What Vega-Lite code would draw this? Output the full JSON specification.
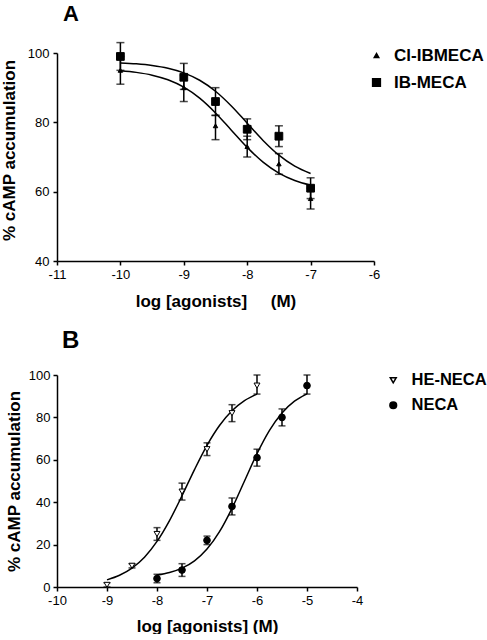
{
  "$schema": "https://vega.github.io/schema/vega-lite/v6.json",
  "background": "white",
  "padding": {"left": 0, "top": 2, "right": 0, "bottom": 0},
  "spacing": 20,
  "datasets": {
    "ptsA": [
      {"series": "Cl-IBMECA", "x": -10, "y": 95, "lo": 91, "hi": 99},
      {"series": "Cl-IBMECA", "x": -9, "y": 90, "lo": 86, "hi": 93.5},
      {"series": "Cl-IBMECA", "x": -8.5, "y": 79, "lo": 75, "hi": 82},
      {"series": "Cl-IBMECA", "x": -8, "y": 73, "lo": 70, "hi": 76},
      {"series": "Cl-IBMECA", "x": -7.5, "y": 68, "lo": 65, "hi": 71},
      {"series": "Cl-IBMECA", "x": -7, "y": 58, "lo": 55, "hi": 61},
      {"series": "IB-MECA", "x": -10, "y": 99, "lo": 95, "hi": 103},
      {"series": "IB-MECA", "x": -9, "y": 93, "lo": 89.5, "hi": 97},
      {"series": "IB-MECA", "x": -8.5, "y": 86, "lo": 82, "hi": 90},
      {"series": "IB-MECA", "x": -8, "y": 78, "lo": 75, "hi": 81},
      {"series": "IB-MECA", "x": -7.5, "y": 76, "lo": 73, "hi": 79},
      {"series": "IB-MECA", "x": -7, "y": 61, "lo": 58, "hi": 64}
    ],
    "curveA": [
      {"series": "IB-MECA", "x": -10, "y": 97.15},
      {"series": "IB-MECA", "x": -9.75, "y": 96.88},
      {"series": "IB-MECA", "x": -9.5, "y": 96.41},
      {"series": "IB-MECA", "x": -9.25, "y": 95.61},
      {"series": "IB-MECA", "x": -9, "y": 94.27},
      {"series": "IB-MECA", "x": -8.75, "y": 92.14},
      {"series": "IB-MECA", "x": -8.5, "y": 88.97},
      {"series": "IB-MECA", "x": -8.25, "y": 84.72},
      {"series": "IB-MECA", "x": -8, "y": 79.75},
      {"series": "IB-MECA", "x": -7.75, "y": 74.78},
      {"series": "IB-MECA", "x": -7.5, "y": 70.53},
      {"series": "IB-MECA", "x": -7.25, "y": 67.36},
      {"series": "IB-MECA", "x": -7, "y": 65.23},
      {"series": "Cl-IBMECA", "x": -10, "y": 94.88},
      {"series": "Cl-IBMECA", "x": -9.75, "y": 94.41},
      {"series": "Cl-IBMECA", "x": -9.5, "y": 93.61},
      {"series": "Cl-IBMECA", "x": -9.25, "y": 92.27},
      {"series": "Cl-IBMECA", "x": -9, "y": 90.14},
      {"series": "Cl-IBMECA", "x": -8.75, "y": 86.97},
      {"series": "Cl-IBMECA", "x": -8.5, "y": 82.72},
      {"series": "Cl-IBMECA", "x": -8.25, "y": 77.75},
      {"series": "Cl-IBMECA", "x": -8, "y": 72.78},
      {"series": "Cl-IBMECA", "x": -7.75, "y": 68.53},
      {"series": "Cl-IBMECA", "x": -7.5, "y": 65.36},
      {"series": "Cl-IBMECA", "x": -7.25, "y": 63.23},
      {"series": "Cl-IBMECA", "x": -7, "y": 61.89}
    ],
    "ptsB": [
      {"series": "HE-NECA", "x": -9, "y": 1, "lo": 0, "hi": 2},
      {"series": "HE-NECA", "x": -8.5, "y": 10, "lo": 9, "hi": 11},
      {"series": "HE-NECA", "x": -8, "y": 25, "lo": 22, "hi": 28},
      {"series": "HE-NECA", "x": -7.5, "y": 45, "lo": 41, "hi": 49},
      {"series": "HE-NECA", "x": -7, "y": 65, "lo": 62, "hi": 68},
      {"series": "HE-NECA", "x": -6.5, "y": 82, "lo": 78, "hi": 86},
      {"series": "HE-NECA", "x": -6, "y": 95, "lo": 91, "hi": 100},
      {"series": "NECA", "x": -8, "y": 4, "lo": 2, "hi": 6},
      {"series": "NECA", "x": -7.5, "y": 8, "lo": 5, "hi": 11},
      {"series": "NECA", "x": -7, "y": 22, "lo": 20, "hi": 24},
      {"series": "NECA", "x": -6.5, "y": 38, "lo": 34, "hi": 42},
      {"series": "NECA", "x": -6, "y": 61, "lo": 57, "hi": 65},
      {"series": "NECA", "x": -5.5, "y": 80, "lo": 76, "hi": 84},
      {"series": "NECA", "x": -5, "y": 95, "lo": 91, "hi": 100}
    ],
    "curveB": [
      {"series": "HE-NECA", "x": -9, "y": 3.36},
      {"series": "HE-NECA", "x": -8.75, "y": 5.52},
      {"series": "HE-NECA", "x": -8.5, "y": 8.91},
      {"series": "HE-NECA", "x": -8.25, "y": 14.07},
      {"series": "HE-NECA", "x": -8, "y": 21.49},
      {"series": "HE-NECA", "x": -7.75, "y": 31.32},
      {"series": "HE-NECA", "x": -7.5, "y": 43.04},
      {"series": "HE-NECA", "x": -7.25, "y": 55.4},
      {"series": "HE-NECA", "x": -7, "y": 66.83},
      {"series": "HE-NECA", "x": -6.75, "y": 76.19},
      {"series": "HE-NECA", "x": -6.5, "y": 83.13},
      {"series": "HE-NECA", "x": -6.25, "y": 87.89},
      {"series": "HE-NECA", "x": -6, "y": 91.0},
      {"series": "NECA", "x": -8, "y": 5.61},
      {"series": "NECA", "x": -7.75, "y": 6.82},
      {"series": "NECA", "x": -7.5, "y": 8.9},
      {"series": "NECA", "x": -7.25, "y": 12.36},
      {"series": "NECA", "x": -7, "y": 17.89},
      {"series": "NECA", "x": -6.75, "y": 26.1},
      {"series": "NECA", "x": -6.5, "y": 37.11},
      {"series": "NECA", "x": -6.25, "y": 50.0},
      {"series": "NECA", "x": -6, "y": 62.89},
      {"series": "NECA", "x": -5.75, "y": 73.9},
      {"series": "NECA", "x": -5.5, "y": 82.11},
      {"series": "NECA", "x": -5.25, "y": 87.64},
      {"series": "NECA", "x": -5, "y": 91.11}
    ]
  },
  "resolve": {"scale": {"shape": "independent", "fill": "independent", "stroke": "independent", "size": "independent", "x": "independent", "y": "independent"}, "legend": {"shape": "independent", "fill": "independent", "stroke": "independent", "size": "independent"}},
  "vconcat": [
    {
      "width": 317,
      "height": 208,
      "title": {"text": "A", "anchor": "start", "frame": "group", "fontSize": 22, "fontWeight": "bold", "font": "Liberation Sans", "color": "black", "offset": 16, "dx": 6},
      "encoding": {
        "x": {"field": "x", "type": "quantitative", "scale": {"domain": [-11, -6], "nice": false, "zero": false},
              "axis": {"values": [-11, -10, -9, -8, -7, -6], "labelExpr": "'' + datum.value", "title": "log [agonists]\u00a0\u00a0\u00a0\u00a0\u00a0(M)", "titlePadding": 12, "labelPadding": 3}}
      },
      "layer": [
        {
          "data": {"name": "curveA"},
          "mark": {"type": "line", "color": "black", "strokeWidth": 1.5, "interpolate": "monotone"},
          "encoding": {
            "y": {"field": "y", "type": "quantitative", "scale": {"domain": [40, 100], "nice": false, "zero": false},
                  "axis": {"values": [40, 60, 80, 100], "title": "% cAMP accumulation", "titlePadding": 9, "labelPadding": 4, "titleY": 97}},
            "detail": {"field": "series"}
          }
        },
        {
          "data": {"name": "ptsA"},
          "mark": {"type": "rule", "color": "black", "strokeWidth": 1.5},
          "encoding": {
            "y": {"field": "lo", "type": "quantitative", "scale": {"domain": [40, 100], "nice": false, "zero": false},
                  "axis": {"values": [40, 60, 80, 100], "title": "% cAMP accumulation", "titlePadding": 9, "labelPadding": 4, "titleY": 97}},
            "y2": {"field": "hi"}
          }
        },
        {
          "data": {"name": "ptsA"},
          "mark": {"type": "tick", "orient": "horizontal", "size": 8, "thickness": 1.5, "color": "black"},
          "encoding": {
            "y": {"field": "lo", "type": "quantitative", "scale": {"domain": [40, 100], "nice": false, "zero": false},
                  "axis": {"values": [40, 60, 80, 100], "title": "% cAMP accumulation", "titlePadding": 9, "labelPadding": 4, "titleY": 97}}
          }
        },
        {
          "data": {"name": "ptsA"},
          "mark": {"type": "tick", "orient": "horizontal", "size": 8, "thickness": 1.5, "color": "black"},
          "encoding": {
            "y": {"field": "hi", "type": "quantitative", "scale": {"domain": [40, 100], "nice": false, "zero": false},
                  "axis": {"values": [40, 60, 80, 100], "title": "% cAMP accumulation", "titlePadding": 9, "labelPadding": 4, "titleY": 97}}
          }
        },
        {
          "data": {"name": "ptsA"},
          "mark": {"type": "point", "filled": true, "strokeWidth": 1, "opacity": 1},
          "encoding": {
            "y": {"field": "y", "type": "quantitative", "scale": {"domain": [40, 100], "nice": false, "zero": false},
                  "axis": {"values": [40, 60, 80, 100], "title": "% cAMP accumulation", "titlePadding": 9, "labelPadding": 4, "titleY": 97}},
            "shape": {"field": "series", "type": "nominal", "scale": {"domain": ["Cl-IBMECA", "IB-MECA"], "range": ["triangle-up", "square"]},
                      "legend": {"orient": "none", "legendX": 311, "legendY": -6, "title": null, "labelFontSize": 17, "labelFontWeight": "bold", "labelFont": "Liberation Sans", "labelColor": "black", "labelOffset": 9, "rowPadding": 9}},
            "size": {"field": "series", "type": "nominal", "scale": {"domain": ["Cl-IBMECA", "IB-MECA"], "range": [20, 60]},
                     "legend": {"orient": "none", "legendX": 311, "legendY": -6, "title": null, "labelFontSize": 17, "labelFontWeight": "bold", "labelFont": "Liberation Sans", "labelColor": "black", "labelOffset": 9, "rowPadding": 9}},
            "fill": {"field": "series", "type": "nominal", "scale": {"domain": ["Cl-IBMECA", "IB-MECA"], "range": ["black", "black"]},
                     "legend": {"orient": "none", "legendX": 311, "legendY": -6, "title": null, "labelFontSize": 17, "labelFontWeight": "bold", "labelFont": "Liberation Sans", "labelColor": "black", "labelOffset": 9, "rowPadding": 9}},
            "stroke": {"field": "series", "type": "nominal", "scale": {"domain": ["Cl-IBMECA", "IB-MECA"], "range": ["black", "black"]},
                     "legend": {"orient": "none", "legendX": 311, "legendY": -6, "title": null, "labelFontSize": 17, "labelFontWeight": "bold", "labelFont": "Liberation Sans", "labelColor": "black", "labelOffset": 9, "rowPadding": 9}}
          }
        }
      ]
    },
    {
      "width": 300,
      "height": 212,
      "title": {"text": "B", "anchor": "start", "frame": "group", "fontSize": 24, "fontWeight": "bold", "font": "Liberation Sans", "color": "black", "offset": 16, "dx": 5},
      "encoding": {
        "x": {"field": "x", "type": "quantitative", "scale": {"domain": [-10, -4], "nice": false, "zero": false},
              "axis": {"values": [-10, -9, -8, -7, -6, -5, -4], "labelExpr": "'' + datum.value", "title": "log [agonists] (M)", "titlePadding": 11, "labelPadding": 3}}
      },
      "layer": [
        {
          "data": {"name": "curveB"},
          "mark": {"type": "line", "color": "black", "strokeWidth": 1.5, "interpolate": "monotone"},
          "encoding": {
            "y": {"field": "y", "type": "quantitative", "scale": {"domain": [0, 100], "nice": false, "zero": false},
                  "axis": {"values": [0, 20, 40, 60, 80, 100], "title": "% cAMP accumulation", "titlePadding": 5, "labelPadding": 3}},
            "detail": {"field": "series"}
          }
        },
        {
          "data": {"name": "ptsB"},
          "mark": {"type": "rule", "color": "black", "strokeWidth": 1.5},
          "encoding": {
            "y": {"field": "lo", "type": "quantitative", "scale": {"domain": [0, 100], "nice": false, "zero": false},
                  "axis": {"values": [0, 20, 40, 60, 80, 100], "title": "% cAMP accumulation", "titlePadding": 5, "labelPadding": 3}},
            "y2": {"field": "hi"}
          }
        },
        {
          "data": {"name": "ptsB"},
          "mark": {"type": "tick", "orient": "horizontal", "size": 7, "thickness": 1.5, "color": "black"},
          "encoding": {
            "y": {"field": "lo", "type": "quantitative", "scale": {"domain": [0, 100], "nice": false, "zero": false},
                  "axis": {"values": [0, 20, 40, 60, 80, 100], "title": "% cAMP accumulation", "titlePadding": 5, "labelPadding": 3}}
          }
        },
        {
          "data": {"name": "ptsB"},
          "mark": {"type": "tick", "orient": "horizontal", "size": 7, "thickness": 1.5, "color": "black"},
          "encoding": {
            "y": {"field": "hi", "type": "quantitative", "scale": {"domain": [0, 100], "nice": false, "zero": false},
                  "axis": {"values": [0, 20, 40, 60, 80, 100], "title": "% cAMP accumulation", "titlePadding": 5, "labelPadding": 3}}
          }
        },
        {
          "data": {"name": "ptsB"},
          "mark": {"type": "point", "filled": true, "strokeWidth": 1, "opacity": 1},
          "encoding": {
            "y": {"field": "y", "type": "quantitative", "scale": {"domain": [0, 100], "nice": false, "zero": false},
                  "axis": {"values": [0, 20, 40, 60, 80, 100], "title": "% cAMP accumulation", "titlePadding": 5, "labelPadding": 3}},
            "shape": {"field": "series", "type": "nominal", "scale": {"domain": ["HE-NECA", "NECA"], "range": ["triangle-down", "circle"]},
                      "legend": {"orient": "none", "legendX": 328, "legendY": -3, "title": null, "labelFontSize": 16.5, "labelFontWeight": "bold", "labelFont": "Liberation Sans", "labelColor": "black", "labelOffset": 10, "rowPadding": 8}},
            "size": {"field": "series", "type": "nominal", "scale": {"domain": ["HE-NECA", "NECA"], "range": [35, 45]},
                     "legend": {"orient": "none", "legendX": 328, "legendY": -3, "title": null, "labelFontSize": 16.5, "labelFontWeight": "bold", "labelFont": "Liberation Sans", "labelColor": "black", "labelOffset": 10, "rowPadding": 8}},
            "fill": {"field": "series", "type": "nominal", "scale": {"domain": ["HE-NECA", "NECA"], "range": ["white", "black"]},
                     "legend": {"orient": "none", "legendX": 328, "legendY": -3, "title": null, "labelFontSize": 16.5, "labelFontWeight": "bold", "labelFont": "Liberation Sans", "labelColor": "black", "labelOffset": 10, "rowPadding": 8}},
            "stroke": {"field": "series", "type": "nominal", "scale": {"domain": ["HE-NECA", "NECA"], "range": ["black", "black"]},
                     "legend": {"orient": "none", "legendX": 328, "legendY": -3, "title": null, "labelFontSize": 16.5, "labelFontWeight": "bold", "labelFont": "Liberation Sans", "labelColor": "black", "labelOffset": 10, "rowPadding": 8}}
          }
        }
      ]
    }
  ],
  "config": {
    "font": "Liberation Sans",
    "view": {"stroke": null},
    "axis": {"grid": false, "domainColor": "black", "domainWidth": 1.5, "tickColor": "black", "tickWidth": 1.5, "tickSize": 4, "labelFont": "Liberation Sans", "labelFontSize": 13, "labelColor": "black", "titleFont": "Liberation Sans", "titleFontSize": 17, "titleFontWeight": "bold", "titleColor": "black", "labelFlush": false, "labelOverlap": false}
  }
}
